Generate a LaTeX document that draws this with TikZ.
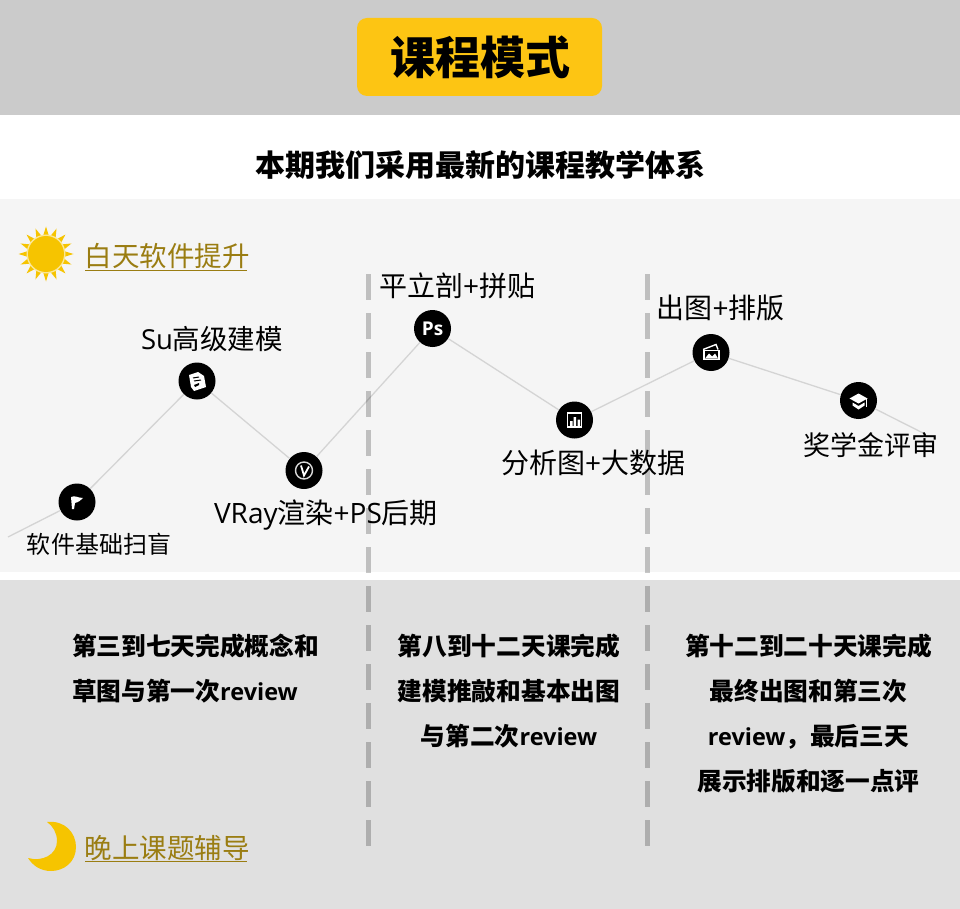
\documentclass[tikz,border=0pt]{standalone}
\usepackage{fontspec}
\setmainfont{Noto Sans CJK SC}
\newfontfamily\latfont{Open Sans}
\newfontfamily\bodylatfont[Scale=0.95]{Open Sans}
\newcommand{\lat}[1]{{\latfont #1}}
\newcommand{\bodylat}[1]{{\bodylatfont #1}}
\definecolor{bargrey}{HTML}{CBCBCB}
\definecolor{daygrey}{HTML}{F5F5F5}
\definecolor{nightgrey}{HTML}{E0E0E0}
\definecolor{btnyellow}{HTML}{FDC513}
\definecolor{sunyellow}{HTML}{F6C400}
\definecolor{tagbrown}{HTML}{9A7D12}
\tikzset{
	stepdot/.style={circle, fill=black, minimum size=37pt, inner sep=0pt, text=white},
	steplabel/.style={inner sep=0pt, font=\fontsize{28}{30}\selectfont},
	linkline/.style={line width=1.3pt, color=black!17},
	splitline/.style={line width=5pt, color=black, opacity=0.22, dash pattern=on 26pt off 13pt},
	tagtext/.style={inner sep=0pt, text=tagbrown, anchor=west, font=\fontsize{27.5}{30}\selectfont},
	tagline/.style={line width=1.1pt, color=tagbrown},
	bodytext/.style={inner sep=0pt, anchor=north, font=\fontsize{24.7}{45}\bfseries\selectfont},
	iconline/.style={color=white, line width=1.4pt},
}
\begin{document}
\begin{tikzpicture}[x=1pt, y=-1pt]
	%%%%% BANDS %%%%%
	\useasboundingbox (0, 0) rectangle (960, 909);
	\fill[white] (0, 0) rectangle (960, 909);
	\fill[bargrey] (0, 0) rectangle (960, 115);
	\fill[daygrey] (0, 199) rectangle (960, 572);
	\fill[nightgrey] (0, 580) rectangle (960, 909);

	\fill[btnyellow, rounded corners=10pt] (357, 18) rectangle (602, 96);
	\node[inner sep=0pt, font=\fontsize{45}{50}\bfseries\selectfont] (title) at (480, 57) {课程模式};
	\node[inner sep=0pt, font=\fontsize{30}{34}\bfseries\selectfont] (subtitle) at (480, 165) {本期我们采用最新的课程教学体系};

	%%%%% SUN AND MOON %%%%%
	\foreach \a in {0, 22.5, ..., 337.5} {
		\fill[sunyellow] ({46+19*cos(\a-8)}, {254+19*sin(\a-8)}) -- ({46+27.5*cos(\a)}, {254+27.5*sin(\a)}) -- ({46+19*cos(\a+8)}, {254+19*sin(\a+8)}) -- cycle;
	}
	\fill[white!60!sunyellow] (46, 254) circle (19.5);
	\fill[sunyellow] (46, 254) circle (18);
	\node[tagtext] (daytag) at (84.5, 256) {白天软件提升};
	\draw[tagline] (85, 270.5) -- (247, 270.5);

	\fill[sunyellow] (47, 822) .. controls (65, 820) and (76, 833) .. (76, 847) .. controls (76, 862) and (64, 871) .. (51, 871) .. controls (41, 871) and (33, 866) .. (28, 858) .. controls (42, 862) and (57, 855) .. (57, 841) .. controls (57, 833) and (53, 826) .. (47, 822) -- cycle;
	\node[tagtext] (nighttag) at (84.5, 848) {晚上课题辅导};
	\draw[tagline] (85, 861.5) -- (247, 861.5);

	%%%%% STEPS %%%%%
	\coordinate (linestart) at (8, 537);
	\coordinate (lineend) at (923, 433);
	\node[stepdot] (flagstep) at (77, 502) {};
	\node[stepdot] (sustep) at (197, 381) {};
	\node[stepdot] (vraystep) at (304, 470.5) {};
	\node[stepdot, font=\latfont\bfseries\fontsize{19}{20}\selectfont] (psstep) at (432.5, 328.5) {Ps};
	\node[stepdot] (chartstep) at (574.5, 420) {};
	\node[stepdot] (photostep) at (711, 352.5) {};
	\node[stepdot] (capstep) at (858.5, 400.5) {};

	\draw[linkline] (linestart) -- (flagstep);
	\draw[linkline] (flagstep) -- (sustep);
	\draw[linkline] (sustep) -- (vraystep);
	\draw[linkline] (vraystep) -- (psstep);
	\draw[linkline] (psstep) -- (chartstep);
	\draw[linkline] (chartstep) -- (photostep);
	\draw[linkline] (photostep) -- (capstep);
	\draw[linkline] (capstep) -- (lineend);

	\node[steplabel, font=\fontsize{24}{28}\selectfont] (flaglabel) at (99, 544) {软件基础扫盲};
	\node[steplabel, font=\fontsize{27.5}{30}\selectfont] (sulabel) at (212, 339) {\lat{Su}高级建模};
	\node[steplabel] (vraylabel) at (326, 515) {\lat{VRay}渲染\lat{+PS}后期};
	\node[steplabel] (pslabel) at (457, 286) {平立剖\lat{+}拼贴};
	\node[steplabel] (chartlabel) at (593, 463) {分析图\lat{+}大数据};
	\node[steplabel] (photolabel) at (720.5, 308) {出图\lat{+}排版};
	\node[steplabel, font=\fontsize{27}{30}\selectfont] (caplabel) at (870.5, 445) {奖学金评审};

	%%%%% ICONS %%%%%
	\begin{scope}[shift={(77, 502)}]
		\fill[white] (-6, -5) .. controls (-2, -7) and (1, -4) .. (6, -4) .. controls (4, -2) and (2, 0) .. (-2, 1) -- (-3, 7) -- (-5, 7) -- cycle;
	\end{scope}
	\begin{scope}[shift={(197, 381)}]
		\fill[white] (-8, -6) -- (1, -9) -- (7, -5) -- (9, 6) -- (-3, 10) -- (-6, 6) -- cycle;
		\draw[black, line width=1pt] (-4, -3) -- (2, -4) (-3, 0) -- (4, -1);
		\fill[black] (-3, 4) -- (2, 2) -- (2, 4) -- (-2, 6) -- cycle;
	\end{scope}
	\begin{scope}[shift={(304, 470.5)}]
		\draw[iconline, color=white!85!black] (0, 0) circle (8.5);
		\draw[iconline, line width=1.8pt] (-3, -5) -- (0, 5) -- (5, -4);
	\end{scope}
	\begin{scope}[shift={(574.5, 420)}]
		\draw[iconline] (-7, -7) rectangle (7, 7);
		\fill[white] (-4.5, 1) rectangle (-2, 7) (-1, -3) rectangle (1.5, 7) (3, -0.5) rectangle (5.5, 7);
	\end{scope}
	\begin{scope}[shift={(711, 352.5)}]
		\draw[iconline] (-7, -2) rectangle (8, 7);
		\draw[iconline] (-8, -3) -- (5, -8) -- (7, -3);
		\fill[white] (-6, 6) -- (-2, 1) -- (1, 4) -- (4, 1) -- (7, 6) -- cycle;
	\end{scope}
	\begin{scope}[shift={(858.5, 400.5)}]
		\fill[white] (-9, -2) -- (0, -7) -- (9, -2) -- (0, 3) -- cycle;
		\fill[white] (-6, 2) -- (0, 5.5) -- (6, 2) -- (6, 5) -- (0, 9) -- (-6, 5) -- cycle;
		\draw[white, line width=1pt] (8, -2) -- (8, 6);
	\end{scope}

	%%%%% SPLITS %%%%%
	\draw[splitline] (368.5, 274) -- (368.5, 847);
	\draw[splitline] (647.5, 274) -- (647.5, 847);

	%%%%% BODY %%%%%
	\node[bodytext, align=left] (firsttext) at (195.5, 634) {第三到七天完成概念和\\草图与第一次\bodylat{review}};
	\node[bodytext, align=center] (secondtext) at (509, 634) {第八到十二天课完成\\建模推敲和基本出图\\与第二次\bodylat{review}};
	\node[bodytext, align=center] (thirdtext) at (808.5, 634) {第十二到二十天课完成\\最终出图和第三次\\\bodylat{review}，最后三天\\展示排版和逐一点评};
\end{tikzpicture}
\end{document}
